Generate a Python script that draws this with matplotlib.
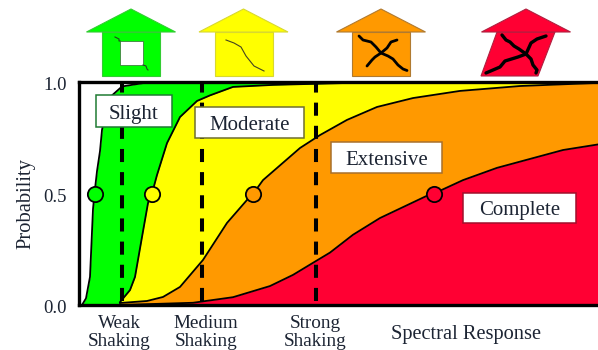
import matplotlib
matplotlib.use("Agg")
import matplotlib.pyplot as plt
from matplotlib.patches import Polygon, Rectangle
from matplotlib.transforms import ScaledTranslation

plt.rcParams['font.family'] = ['Liberation Serif', 'DejaVu Serif']
W, H = 598, 350
TXT = '#1c2433'

# Fragility curves: spectral response (arbitrary units) vs probability
slight_x = [3, 7, 11, 14, 15.5, 18, 21, 23, 26, 33, 43, 64, 121, 519]
slight_y = [0.0, 0.03, 0.126, 0.43, 0.50, 0.60, 0.69, 0.785, 0.85, 0.94, 0.98, 0.995, 1.0, 1.0]
moderate_x = [41, 51, 56, 63, 69, 73, 78, 88, 101, 118, 131, 154, 194, 271, 519]
moderate_y = [0.013, 0.067, 0.126, 0.305, 0.457, 0.50, 0.583, 0.726, 0.843, 0.915, 0.94, 0.978, 0.987, 0.996, 1.0]
extensive_x = [41, 68, 84, 101, 124, 148, 168, 174, 184, 221, 241, 268, 298, 334, 381, 441, 519]
extensive_y = [0.009, 0.018, 0.036, 0.081, 0.202, 0.368, 0.471, 0.498, 0.56, 0.704, 0.762, 0.83, 0.888, 0.928, 0.96, 0.982, 0.996]
complete_x = [41, 114, 154, 191, 214, 238, 251, 274, 301, 348, 355, 384, 418, 484, 519]
complete_y = [0.0, 0.01, 0.035, 0.085, 0.135, 0.20, 0.235, 0.315, 0.39, 0.49, 0.50, 0.56, 0.615, 0.695, 0.72]
median_x = [15.5, 73, 174, 355]
median_y = [0.5, 0.5, 0.5, 0.5]
shaking_x = [43, 123, 237]
tick_x = [40, 127, 236]
tick_labels = ['Weak\nShaking', 'Medium\nShaking', 'Strong\nShaking']
state_names = ['Slight', 'Moderate', 'Extensive', 'Complete']
state_fill = ['#00ff00', '#ffff00', '#ff9900', '#ff0033']
state_edge = ['#1f7a33', '#6f6f30', '#a8702c', '#a0102c']

fig = plt.figure(figsize=(W / 100, H / 100), dpi=100, facecolor='white')
ax = fig.add_axes([79 / W, 1 - 305 / H, 519 / W, 223 / H])
ax.set_xlim(0, 519)
ax.set_ylim(0, 1)

curves = [(slight_x, slight_y), (moderate_x, moderate_y), (extensive_x, extensive_y), (complete_x, complete_y)]
for i, ((cx, cy), col) in enumerate(zip(curves, state_fill)):
    ax.fill_between(cx, 0, cy, color=col, lw=0, zorder=1 + i * 0.1)
for i, (cx, cy) in enumerate(curves):
    ax.plot(cx, cy, color='black', lw=1.3, zorder=2, solid_joinstyle='round')
for x in shaking_x:
    ax.axvline(x, ymin=0.018, color='black', lw=2.9, dashes=(3.25, 2.5), dash_capstyle='butt', zorder=3)
for x, y, col in zip(median_x, median_y, state_fill):
    ax.plot(x, y, 'o', ms=11, mfc=col, mec='black', mew=1.3, zorder=4, clip_on=False)

for s in ('left', 'top', 'bottom'):
    ax.spines[s].set_linewidth(2.4)
ax.spines['right'].set_visible(False)
for s in ax.spines.values():
    s.set_zorder(6)
ax.set_yticks([0, 0.5, 1.0], ['0.0', '0.5', '1.0'], fontsize=13.5, color=TXT)
ax.set_xticks(tick_x, tick_labels, fontsize=13.8, color=TXT, linespacing=1.1)
ax.tick_params(length=0, pad=7)
ax.tick_params(axis='y', pad=9)
shift = ScaledTranslation(0, -1.5 / 100, fig.dpi_scale_trans)
for lab in ax.get_yticklabels():
    lab.set_transform(lab.get_transform() + shift)
ax.set_ylabel('Probability', fontsize=14.8, color=TXT)
ax.yaxis.set_label_coords((26 - 79) / 519, (305 - 204) / 223)
ax.yaxis.label.set_va('center')
ax.set_xlabel('Spectral Response', fontsize=14.7, color=TXT)
ax.xaxis.set_label_coords((466 - 79) / 519, -(334 - 305) / 223)
ax.xaxis.label.set_va('center')

# Overlay in pixel units for the house icons and state labels
ov = fig.add_axes([0, 0, 1, 1], zorder=5)
ov.set_xlim(0, W)
ov.set_ylim(H, 0)
ov.axis('off')
ov.patch.set_alpha(0)


def house(cx, col, edge, body=None):
    roof = [(cx - 44.5, 32), (cx, 9), (cx + 44.5, 32)]
    b = body or [(cx - 29, 32), (cx + 29, 32), (cx + 29, 76), (cx - 29, 76)]
    ov.add_patch(Polygon(b, fc=col, ec=edge, lw=0.8))
    ov.add_patch(Polygon(roof, fc=col, ec=edge, lw=0.8))


house(131, state_fill[0], '#33cc33')
house(243.5, state_fill[1], '#d8d830')
house(381, state_fill[2], '#b07a30')
house(526, state_fill[3], '#b02040', body=[(497, 32), (555, 32), (538, 76), (481, 76)])

ov.add_patch(Rectangle((120, 41), 23, 24, fc='white', ec='#336633', lw=0.5))
ov.plot([115, 119, 119, 120], [37, 39, 41, 41], color='#224422', lw=0.8)
ov.plot([143, 146, 147, 148], [65, 66, 69, 70], color='#224422', lw=0.8)
ov.plot([226, 234, 241, 246, 254, 264], [40, 43, 47, 56, 66, 71], color='#444422', lw=0.8)

crack = dict(color='black', solid_capstyle='round', solid_joinstyle='round')
ov.plot([359, 363, 371, 376, 381, 388, 393, 398, 403, 407], [36, 40, 42, 47, 53, 56, 59, 65, 69, 70.5], lw=2, **crack)
ov.plot([397, 391, 387, 381, 375, 372, 367], [40, 42, 48, 53, 57, 60, 66], lw=2, **crack)
ov.plot([502, 506, 510, 514, 519, 526, 531, 533, 537, 536], [35, 40, 42, 46, 49, 54, 59, 65, 70, 73], lw=2.4, **crack)
ov.plot([546, 537, 531, 526, 518, 505, 500, 486], [36, 39, 43, 54, 57, 61, 67, 73], lw=2.4, **crack)

boxes = [(96, 95, 76, 32), (195, 107, 109, 31), (331, 142, 111, 31), (463, 193, 113, 30)]
for (x, y, w, h), name, ec in zip(boxes, state_names, state_edge):
    ov.add_patch(Rectangle((x, y), w, h, fc='white', ec=ec, lw=1.1))
    ov.text(x + w / 2, y + h / 2 + 3, name, ha='center', va='center', fontsize=15, color=TXT)

fig.savefig('out.png', dpi=100)
